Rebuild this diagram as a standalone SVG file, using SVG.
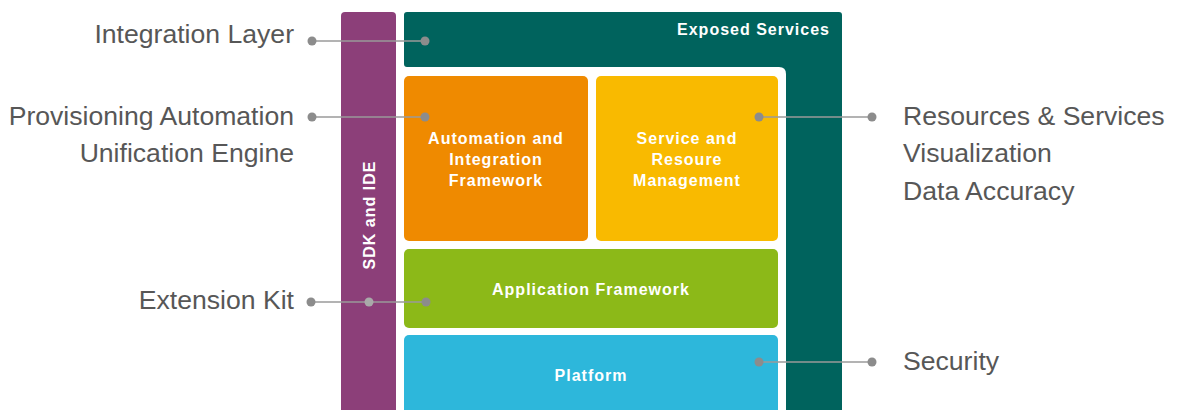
<svg xmlns="http://www.w3.org/2000/svg" width="1185" height="410" viewBox="0 0 1185 410">
<style>
.lbl{font-family:"Liberation Sans",Arial,sans-serif;font-size:26.6px;fill:#575757}
.box{font-family:"Liberation Sans",Arial,sans-serif;font-size:16px;font-weight:bold;fill:#ffffff;letter-spacing:1px;text-anchor:middle}
.ln{stroke:#9a9a9a;stroke-width:1.5;fill:none}
.dot{fill:#8c8c8c}
.dot2{fill:#a9a9a9}
</style>
<rect width="1185" height="410" fill="#ffffff"/>
<g id="sdk">
<rect x="341" y="12" width="55" height="410" rx="4" fill="#8C3F79"/>
<text class="box" transform="translate(375,215) rotate(-90)" x="0" y="0">SDK and IDE</text>
</g>
<g id="exposed-services">
<path d="M407,12 H839 Q842,12 842,15 V410 H786 V74 Q786,67 779,67 H407 Q404,67 404,64 V15 Q404,12 407,12 Z" fill="#00635D"/>
<text class="box" x="830" y="35" style="text-anchor:end">Exposed Services</text>
</g>
<g id="automation">
<rect x="404" y="76" width="184" height="165" rx="5" fill="#EF8A00"/>
<text class="box" x="496" y="144">Automation and</text>
<text class="box" x="496" y="165">Integration</text>
<text class="box" x="496" y="186">Framework</text>
</g>
<g id="service">
<rect x="596" y="76" width="182" height="165" rx="5" fill="#F9BA00"/>
<text class="box" x="687" y="144">Service and</text>
<text class="box" x="687" y="165">Resoure</text>
<text class="box" x="687" y="186">Management</text>
</g>
<g id="appframework">
<rect x="404" y="249" width="374" height="79" rx="5" fill="#8CB918"/>
<text class="box" x="591" y="295">Application Framework</text>
</g>
<g id="platform">
<rect x="404" y="335" width="374" height="90" rx="5" fill="#2DB7DB"/>
<text class="box" x="591" y="381">Platform</text>
</g>
<g id="labels">
<text class="lbl" x="294" y="43" text-anchor="end">Integration Layer</text>
<text class="lbl" x="294" y="125" text-anchor="end">Provisioning Automation</text>
<text class="lbl" x="294" y="162" text-anchor="end">Unification Engine</text>
<text class="lbl" x="294" y="309" text-anchor="end">Extension Kit</text>
<text class="lbl" x="903" y="125">Resources &amp; Services</text>
<text class="lbl" x="903" y="162">Visualization</text>
<text class="lbl" x="903" y="200">Data Accuracy</text>
<text class="lbl" x="903" y="370">Security</text>
</g>
<g id="connectors">
<line class="ln" x1="312" y1="41" x2="425" y2="41"/>
<circle class="dot" cx="312" cy="41" r="4.5"/>
<circle class="dot" cx="425" cy="41" r="4.5"/>
<line class="ln" x1="312" y1="117" x2="425" y2="117"/>
<circle class="dot" cx="312" cy="117" r="4.5"/>
<circle class="dot" cx="425" cy="117" r="4.5"/>
<line class="ln" x1="311" y1="302" x2="426" y2="302"/>
<circle class="dot" cx="311" cy="302" r="4.5"/>
<circle class="dot2" cx="369" cy="302" r="4.5"/>
<circle class="dot" cx="426" cy="302" r="4.5"/>
<line class="ln" x1="759" y1="117" x2="872" y2="117"/>
<circle class="dot" cx="759" cy="117" r="4.5"/>
<circle class="dot" cx="872" cy="117" r="4.5"/>
<line class="ln" x1="759" y1="362" x2="872" y2="362"/>
<circle class="dot" cx="759" cy="362" r="4.5"/>
<circle class="dot" cx="872" cy="362" r="4.5"/>
</g>
</svg>
